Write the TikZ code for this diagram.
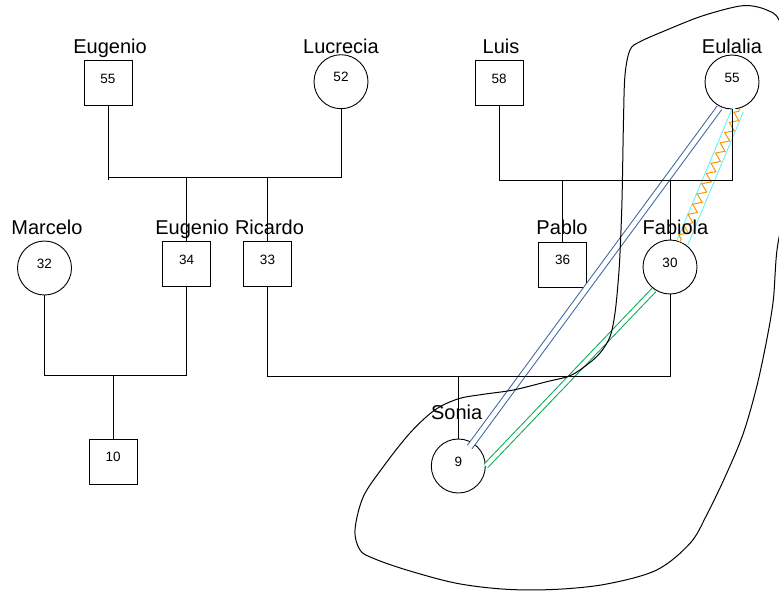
\documentclass[tikz,border=0pt]{standalone}
\usepackage{fontspec}
\setmainfont{Liberation Sans}
\usetikzlibrary{decorations.pathmorphing,calc}
\definecolor{relblue}{RGB}{60,100,160}
\definecolor{relgreen}{RGB}{0,170,80}
\definecolor{relcyan}{RGB}{100,240,250}
\definecolor{relorange}{RGB}{255,150,0}
\begin{document}
\begin{tikzpicture}[x=1pt,y=-1pt,
  fam/.style={line width=0.9pt, draw=black},
  male/.style={draw, line width=0.9pt, minimum width=48pt, minimum height=45pt, inner sep=0pt},
  female/.style={draw, circle, line width=0.9pt, minimum size=54pt, inner sep=0pt},
  num/.style={font=\fontsize{13.5}{14}\selectfont, anchor=base, inner sep=0pt},
  lab/.style={font=\fontsize{20}{22}\selectfont, anchor=base, inner sep=0pt},
  bluerel/.style={draw=relblue, line width=1pt, double=white, double distance=4.7pt},
  greenrel/.style={draw=relgreen, line width=1pt, double=white, double distance=4pt},
  cyanrel/.style={draw=relcyan, line width=1pt, double=white, double distance=10.5pt},
  ziggy/.style={draw=relorange, line width=1pt, decorate,
     decoration={zigzag, segment length=11.2pt, amplitude=4pt, pre length=3pt, post length=3pt}},
  outline/.style={draw=black, line width=1pt}
]
\useasboundingbox (0,0) rectangle (779,590);

% persons
\node[male] (eug1) at (108,83.2) {};
\node[female] (luc) at (341,81.7) {};
\node[male] (luis) at (499.2,83.2) {};
\node[female] (eul) at (732,82) {};
\node[female] (mar) at (44.5,268) {};
\node[male] (eug2) at (186.7,264.2) {};
\node[male] (ric) at (267.5,264.2) {};
\node[male] (pab) at (562.7,264.5) {};
\node[female] (fab) at (670,267) {};
\node[male] (ten) at (113.2,461.7) {};
\node[female] (son) at (458.3,466) {};

% emotional relationships
\draw[bluerel] ($(eul.center)+(244:28.7pt)$) -- ($(son.center)+(59:22.2pt)$);
\draw[greenrel] ($(fab.center)+(235:28pt)$) -- (son.east);
\draw[cyanrel] ($(eul.center)+(282:28.4pt)$) -- ($(fab.center)+(63:27.5pt)$);
\draw[ziggy] ($(fab.center)+(68.4:27.2pt)$) -- ($(eul.center)+(287:27.5pt)$);

% outline
\begin{scope}
\clip (0,0) rectangle (779,590);
\draw[outline] plot[smooth cycle, tension=0.55] coordinates {
 (750,5.7) (766.7,10) (779,20) (790,60) (794,130) (786,200) (777,250)
 (773.3,300) (766.7,340) (756.7,386.7) (743.3,433.3) (726.7,473.3)
 (706.7,515) (690,543.3) (656.7,570) (606.7,584) (556.7,589.3)
 (506.7,589.3) (456.7,583.3) (406.7,570) (373.3,558.3) (360,550)
 (355,530) (363.3,496.7) (383.3,466.7) (406.7,436.7) (425,418)
 (440,406.7) (460,398.3) (483.3,394.3) (513.3,390) (546.7,381.7)
 (570,375.7) (586.7,365) (600,353) (610,336.7) (615,313) (618.3,280)
 (620,253) (622,200) (623.5,120) (625,75) (630,50) (640,41.7)
 (666.7,30) (700,16.7) (733.3,7.3)};
\end{scope}

% family lines
\coordinate (bar1) at (0,177);
\coordinate (bar2) at (0,180);
\coordinate (bar3) at (0,375);
\coordinate (bar4) at (0,376);
\draw[fam] (eug1.south) -- (eug1.south |- bar2);
\draw[fam] (eug1.south |- bar1) -- (luc.south |- bar1) -- (luc.south);
\draw[fam] (eug2.north) -- (eug2.north |- bar1);
\draw[fam] (ric.north) -- (ric.north |- bar1);

\draw[fam] (luis.south) -- (luis.south |- bar2) -- (eul.south |- bar2) -- (eul.south);
\draw[fam] (pab.north) -- (pab.north |- bar2);
\draw[fam] (fab.north) -- (fab.north |- bar2);

\draw[fam] (mar.south) -- (mar.south |- bar3) -- (eug2.south |- bar3) -- (eug2.south);
\draw[fam] (ten.north) -- (ten.north |- bar3);

\draw[fam] (ric.south) -- (ric.south |- bar4) -- (fab.south |- bar4) -- (fab.south);
\draw[fam] (son.north) -- (son.north |- bar4);

% ages
\node[num] (aeug1) at (eug1.center) {55};
\node[num] (aluc) at (luc.center) {52};
\node[num] (aluis) at (luis.center) {58};
\node[num] (aeul) at (eul.center) {55};
\node[num] (amar) at (mar.center) {32};
\node[num] (aeug2) at (eug2.center) {34};
\node[num] (aric) at (ric.center) {33};
\node[num] (apab) at (pab.center) {36};
\node[num] (afab) at (fab.center) {30};
\node[num] (aten) at (ten.center) {10};
\node[num] (ason) at (son.center) {9};

% names
\node[lab] (neug1) at (110,53.3) {Eugenio};
\node[lab] (nluc) at (341,53.3) {Lucrecia};
\node[lab] (nluis) at (501,53.3) {Luis};
\node[lab] (neul) at (732,53.3) {Eulalia};
\node[lab] (nmar) at (47,234.8) {Marcelo};
\node[lab] (neug2) at (192,234.8) {Eugenio};
\node[lab] (nric) at (269.5,234.8) {Ricardo};
\node[lab] (npab) at (562,234.8) {Pablo};
\node[lab] (nfab) at (675.5,234.8) {Fabiola};
\node[lab] (nson) at (456.7,419) {Sonia};
\end{tikzpicture}
\end{document}
